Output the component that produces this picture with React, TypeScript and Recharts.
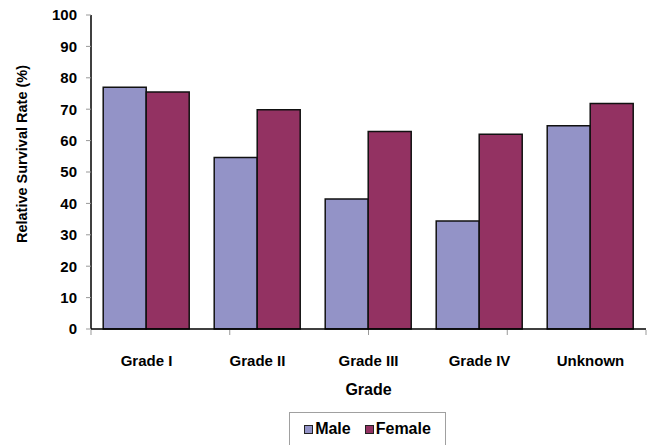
import React from 'react';
import { BarChart, Bar, XAxis, YAxis, Label } from 'recharts';

const grades = ['Grade I', 'Grade II', 'Grade III', 'Grade IV', 'Unknown'];
const male = [77.0, 54.6, 41.4, 34.4, 64.7];
const female = [75.5, 69.8, 62.9, 62.0, 71.8];
const yTicks = [0, 10, 20, 30, 40, 50, 60, 70, 80, 90, 100];
const boundaryTicks = [0, 1, 2, 3, 4, 5];

const data = grades.map((g, i) => ({ grade: g, male: male[i], female: female[i] }));

const FONT = '"Liberation Sans", Arial, sans-serif';
const MALE_COLOR = '#9393C7';
const FEMALE_COLOR = '#933262';

const CategoryTick = (props: any) => {
  const { x, y, payload } = props;
  return (
    <text x={x} y={y + 23} textAnchor="middle" dominantBaseline="central"
      fontFamily={FONT} fontWeight="bold" fontSize={15} fill="#000">
      {payload.value}
    </text>
  );
};

const LegendBox = () => (
  <div style={{
    position: 'absolute', left: 289, top: 412, width: 157, height: 40,
    border: '1px solid #a0a0a0', boxSizing: 'border-box', paddingBottom: 6,
    display: 'flex', alignItems: 'center', justifyContent: 'center',
    fontFamily: FONT, fontWeight: 'bold', fontSize: 16, color: '#000'
  }}>
    {[['Male', MALE_COLOR], ['Female', FEMALE_COLOR]].map(([name, color], i) => (
      <span key={name} style={{ display: 'flex', alignItems: 'center', marginLeft: i ? 14 : 0 }}>
        <span style={{ width: 7, height: 7, background: color, border: '1px solid #222', marginRight: 2 }} />
        {name}
      </span>
    ))}
  </div>
);

export default function App() {
  return (
    <div style={{ position: 'absolute', left: 0, top: 0, width: 650, height: 445, background: '#fff', overflow: 'hidden' }}>
      <BarChart width={650} height={445} data={data}
        margin={{ top: 15, right: 4, bottom: 114, left: 0 }}
        barCategoryGap="11%" barGap={0}>
        <XAxis dataKey="grade" height={1} tickLine={false} tick={<CategoryTick />}
          axisLine={{ stroke: '#000', strokeWidth: 1.5 }} interval={0}>
          <Label content={(p: any) => {
            const vb = p.viewBox;
            return (
              <text x={vb.x + vb.width / 2} y={vb.y + 60} textAnchor="middle" dominantBaseline="central"
                fontFamily={FONT} fontWeight="bold" fontSize={16} fill="#000">Grade</text>
            );
          }} />
        </XAxis>
        <XAxis xAxisId="b" type="number" domain={[0, 5]} ticks={boundaryTicks} height={1} interval={0}
          tick={() => <g />} axisLine={false} tickSize={5} tickLine={{ stroke: '#999' }} />
        <YAxis width={91} domain={[0, 100]} ticks={yTicks} interval={0}
          axisLine={{ stroke: '#000', strokeWidth: 1.5 }} tickLine={{ stroke: '#999' }} tickSize={5} tickMargin={9}
          tick={{ fontFamily: FONT, fontWeight: 'bold', fontSize: 15, fill: '#000' }}>
          <Label content={(p: any) => {
            const vb = p.viewBox;
            const cx = 22;
            const cy = vb.y + vb.height / 2 - 18;
            return (
              <text x={cx} y={cy} transform={`rotate(-90 ${cx} ${cy})`} textAnchor="middle" dominantBaseline="central"
                fontFamily={FONT} fontWeight="bold" fontSize={14.5} fill="#000">Relative Survival Rate (%)</text>
            );
          }} />
        </YAxis>
        <Bar dataKey="male" name="Male" fill={MALE_COLOR} stroke="#111" strokeWidth={1.5} isAnimationActive={false} />
        <Bar dataKey="female" name="Female" fill={FEMALE_COLOR} stroke="#111" strokeWidth={1.5} isAnimationActive={false} />
      </BarChart>
      <LegendBox />
    </div>
  );
}
